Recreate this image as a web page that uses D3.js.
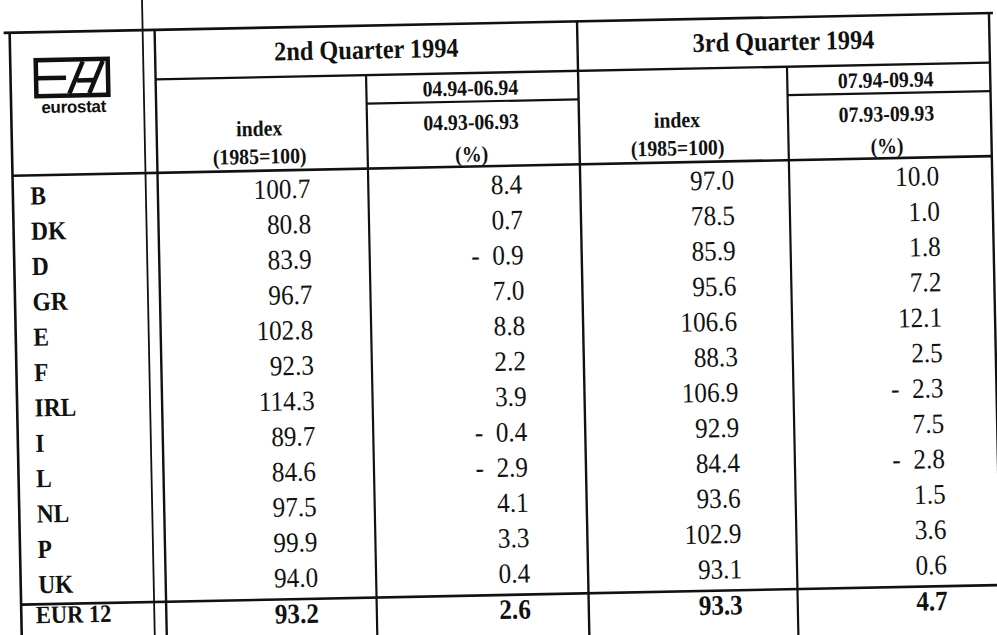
<!DOCTYPE html>
<html>
<head>
<meta charset="utf-8">
<script src="https://cdn.jsdelivr.net/npm/d3@7"></script>
<style>
  html, body { margin: 0; padding: 0; background: #fff; }
  svg { display: block; }
  text { font-family: "Liberation Serif", "Times New Roman", serif; fill: #111; white-space: pre; }
</style>
</head>
<body>
<div id="chart"></div>
<script>
// table values
const countries = ["B", "DK", "D", "GR", "E", "F", "IRL", "I", "L", "NL", "P", "UK"];
const q2Index  = [100.7, 80.8, 83.9, 96.7, 102.8, 92.3, 114.3, 89.7, 84.6, 97.5, 99.9, 94.0];
const q2Change = [8.4, 0.7, -0.9, 7.0, 8.8, 2.2, 3.9, -0.4, -2.9, 4.1, 3.3, 0.4];
const q3Index  = [97.0, 78.5, 85.9, 95.6, 106.6, 88.3, 106.9, 92.9, 84.4, 93.6, 102.9, 93.1];
const q3Change = [10.0, 1.0, 1.8, 7.2, 12.1, 2.5, -2.3, 7.5, -2.8, 1.5, 3.6, 0.6];
const totalLabel = "EUR 12";
const totalValues = [93.2, 2.6, 93.3, 4.7];

const quarters = ["2nd Quarter 1994", "3rd Quarter 1994"];
const periodsNow = ["04.94-06.94", "07.94-09.94"];
const periodsPrev = ["04.93-06.93", "07.93-09.93"];

const W = 997, H = 635;

const svg = d3.select("#chart").append("svg")
    .attr("width", W)
    .attr("height", H);

svg.append("rect").attr("width", W).attr("height", H).attr("fill", "#fff");

// the scan is slightly tilted, so draw the table in a rotated group
const g = svg.append("g").attr("transform", "rotate(-1.15, 500, 320)");

// column edges
const xLeft = 15.5, xDbl1 = 148.5, xDbl2 = 160.5, xQ2mid = 371, xQ = 583, xQ3mid = 792, xRight = 995;
// row edges
const yTop = 23, yQuarter = 72.5, ySub = 101, yHead = 166, yTotal = 595, yBottom = 655;

const cols = ["q2i", "q2c", "q3i", "q3c"];
const colX = d3.scaleOrdinal().domain(cols).range([313, 525, 737, 942]);
const rowY = d3.scaleLinear().domain([0, countries.length - 1]).range([194, 583]);

const fmt = d3.format(".1f");
const fmtVal = v => v < 0 ? "-  " + fmt(-v) : fmt(v);

// the typewriter face in the scan is narrower than Times, squeeze it a bit
const SX = 0.9;
function label(sel, x, y, size, bold, anchor) {
    sel.attr("transform", `translate(${x},${y}) scale(${SX},1)`)
        .attr("text-anchor", anchor || "start")
        .style("font-size", size + "px")
        .style("font-weight", bold ? "bold" : "normal");
    return sel;
}

// ---- lines
function line(x1, y1, x2, y2, w) {
    g.append("line")
        .attr("x1", x1).attr("y1", y1).attr("x2", x2).attr("y2", y2)
        .attr("stroke", "#111")
        .attr("stroke-width", w);
}

line(xLeft - 6, yTop, xRight + 4, yTop, 2.6);
line(xDbl2, yQuarter, xRight, yQuarter, 2.4);
line(xQ2mid, ySub, xQ, ySub, 2.2);
line(xQ3mid, ySub, xRight, ySub, 2.2);
line(xLeft, yHead, xRight, yHead, 2.6);
line(xLeft, yTotal, xRight, yTotal, 2.6);

line(xLeft, yTop, xLeft, yBottom, 2.6);
line(xDbl1, -20, xDbl1, yBottom, 1.8);
line(xDbl2, yTop, xDbl2, yBottom, 2.4);
line(xQ2mid, yQuarter, xQ2mid, yBottom, 2.2);
line(xQ, yTop, xQ, yBottom, 2.4);
line(xQ3mid, yQuarter, xQ3mid, yBottom, 2.2);
line(xRight, yTop, xRight, yBottom, 2.4);

// ---- header
const headX = d3.scaleOrdinal().domain([0, 1]).range([(xDbl2 + xQ) / 2, (xQ + xRight) / 2]);
quarters.forEach((q, i) => {
    label(g.append("text"), headX(i), 56, 27, true, "middle").text(q);
});

const idxX = [263, 681];
const pctX = [(xQ2mid + xQ) / 2 - 2, (xQ3mid + xRight) / 2 - 3];

[0, 1].forEach(i => {
    const hdr = [
        [idxX[i], 131, "index"],
        [idxX[i], 159, "(1985=100)"],
        [pctX[i], 95, periodsNow[i]],
        [pctX[i], 129, periodsPrev[i]],
        [pctX[i], 161, "(%)"]
    ];
    hdr.forEach(d => {
        label(g.append("text"), d[0], d[1], 22, true, "middle").text(d[2]);
    });
});

// ---- eurostat logo
const logo = g.append("g").attr("transform", "translate(41,51)");
logo.append("rect")
    .attr("x", 0).attr("y", 0).attr("width", 72).attr("height", 36)
    .attr("fill", "#fff").attr("stroke", "#111").attr("stroke-width", 4.5);
logo.append("path")
    .attr("d", "M1,18 H30 M33,34 L47,2 M41,21 H57 M53,34 L67,2")
    .attr("fill", "none")
    .attr("stroke", "#111")
    .attr("stroke-width", 4.5);
logo.append("text")
    .attr("x", 37)
    .attr("y", 53)
    .attr("text-anchor", "middle")
    .style("font-family", "'Liberation Sans', Arial, sans-serif")
    .style("font-weight", "bold")
    .style("font-size", "17px")
    .style("letter-spacing", "-0.3px")
    .text("eurostat");

// ---- body rows
const rows = countries.map((c, i) => ({
    name: c, q2i: q2Index[i], q2c: q2Change[i], q3i: q3Index[i], q3c: q3Change[i]
}));

rows.forEach((d, i) => {
    label(g.append("text"), 33, rowY(i) + 1, 26, true).text(d.name);
    cols.forEach(c => {
        label(g.append("text"), colX(c), rowY(i), 28, false, "end").text(fmtVal(d[c]));
    });
});

// ---- EUR 12 total (the scan cuts this row at the bottom edge)
const yTot = 619;
label(g.append("text"), 30, yTot - 5, 25, true).text(totalLabel);

totalValues.forEach((v, i) => {
    label(g.append("text"), colX(cols[i]), yTot, 28, true, "end").text(fmtVal(v));
});
</script>
</body>
</html>
